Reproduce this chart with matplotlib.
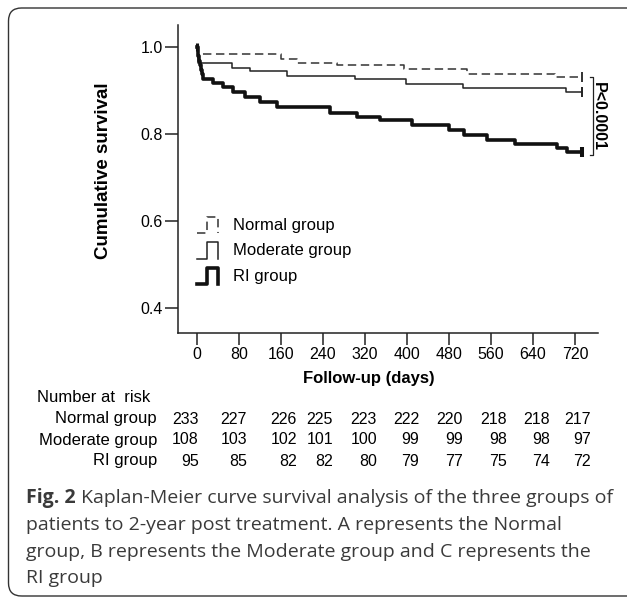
import numpy as np
import matplotlib
matplotlib.use("Agg")
import matplotlib.pyplot as plt
from matplotlib.lines import Line2D
from matplotlib.patches import FancyBboxPatch
from matplotlib.legend_handler import HandlerLine2D

plt.rcParams['font.family'] = ['Liberation Sans', 'DejaVu Sans']

# survival curves (event day, survival after the event)
normal_t = [0, 2, 160, 190, 266, 395, 514, 682]
normal_s = [1.0, 0.983, 0.972, 0.964, 0.959, 0.950, 0.938, 0.930]
moderate_t = [0, 2, 66, 101, 171, 301, 399, 507, 703]
moderate_s = [1.0, 0.964, 0.952, 0.945, 0.934, 0.926, 0.915, 0.906, 0.896]
ri_t = [0, 1, 2, 4, 6, 8, 10, 12, 31, 50, 69, 91, 120, 152, 253, 304, 349, 409, 480, 508, 553, 606, 685, 704]
ri_s = [1.0, 0.989, 0.979, 0.968, 0.958, 0.947, 0.937, 0.926, 0.917, 0.907, 0.897, 0.886,
        0.874, 0.861, 0.849, 0.840, 0.832, 0.820, 0.809, 0.798, 0.787, 0.777, 0.767, 0.758]
end_day = 733

group_names = ['Normal group', 'Moderate group', 'RI group']
x_ticks = [0, 80, 160, 240, 320, 400, 480, 560, 640, 720]
y_ticks = [0.4, 0.6, 0.8, 1.0]
risk_normal = [233, 227, 226, 225, 223, 222, 220, 218, 218, 217]
risk_moderate = [108, 103, 102, 101, 100, 99, 99, 98, 98, 97]
risk_ri = [95, 85, 82, 82, 80, 79, 77, 75, 74, 72]
p_text = 'P<0.0001'

caption_bold = 'Fig. 2'
caption_lines = [' Kaplan-Meier curve survival analysis of the three groups of',
                 'patients to 2-year post treatment. A represents the Normal',
                 'group, B represents the Moderate group and C represents the',
                 'RI group']

W, H = 627, 597
fig = plt.figure(figsize=(W / 100, H / 100), dpi=100)


def px(x, y):
    return x / W, 1 - y / H


# ---- axes ----
ax = fig.add_axes([178 / W, 1 - 333 / H, (598 - 178) / W, (333 - 25) / H])
ax.set_xlim(-36.2, 763.8)
ax.set_ylim(0.3425, 1.0506)
for sp in ['top', 'right']:
    ax.spines[sp].set_visible(False)
for sp in ['left', 'bottom']:
    ax.spines[sp].set_linewidth(1.1)
    ax.spines[sp].set_color('#222222')
ax.set_xticks(x_ticks)
ax.set_xticklabels([str(v) for v in x_ticks])
ax.set_yticks(y_ticks)
ax.set_yticklabels(['%.1f' % v for v in y_ticks])
ax.tick_params(axis='y', length=9.4, width=1.1, pad=1.5, labelsize=11.5, color='#222222')
ax.tick_params(axis='x', length=8.6, width=1.1, pad=1.5, labelsize=11.5, color='#222222')

styles = [dict(color='#333333', lw=1.1, ls=(0, (5.5, 3))),
          dict(color='#222222', lw=1.1, ls='-'),
          dict(color='#111111', lw=2.6, ls='-')]
curves = [(normal_t, normal_s), (moderate_t, moderate_s), (ri_t, ri_s)]
handles = []
for (t, s), st, name in zip(curves, styles, group_names):
    tt = list(t) + [end_day]
    ss = list(s) + [s[-1]]
    ln, = ax.step(tt, ss, where='post', label=name, **st)
    ax.plot([end_day], [s[-1]], marker='|', ms=7, mew=st['lw'] + 0.3, color=st['color'])
    handles.append(ln)
ax.plot([0], [1.0], marker='|', ms=6, mew=2.2, color='#111111')


class StepHandler(HandlerLine2D):
    def create_artists(self, legend, orig_handle, xdescent, ydescent, width, height, fontsize, trans):
        xs = np.array([0, 0.45, 0.45, 0.95, 0.95]) * width - xdescent
        ys = np.array([-0.1, -0.1, 1.0, 1.0, -0.1]) * height - ydescent
        line = Line2D(xs, ys)
        self.update_prop(line, orig_handle, legend)
        line.set_transform(trans)
        return [line]


leg = ax.legend(handles=handles, loc='upper left', bbox_to_anchor=px(197, 217),
                bbox_transform=fig.transFigure, frameon=False, fontsize=12,
                borderpad=0, borderaxespad=0, handlelength=1.3, handleheight=1.0,
                handletextpad=0.85, labelspacing=0.55,
                handler_map={Line2D: StepHandler()})

# p-value bracket
s_top, s_bot = normal_s[-1], ri_s[-1] - 0.006
bx = 754
ax.plot([bx - 5, bx, bx, bx - 5], [s_top, s_top, s_bot, s_bot], color='#222222', lw=0.9, clip_on=False)
ax.text(bx + 10, (s_top + s_bot) / 2, p_text, rotation=-90, ha='center', va='center',
        fontsize=11.5, fontweight='bold', clip_on=False)

# axis labels
fig.text(*px(103, 171), 'Cumulative survival', rotation=90, ha='center', va='center',
         fontsize=13.5, fontweight='bold')
fig.text(*px(369, 379), 'Follow-up (days)', ha='center', va='center',
         fontsize=12, fontweight='bold')

# number at risk table
fig.text(*px(37, 398), 'Number at  risk', ha='left', va='center', fontsize=12)
col_right = [199, 247, 297, 333, 377, 419, 463, 507, 550, 591]
row_y = [419, 440, 461]
for name, vals, y in zip(group_names, [risk_normal, risk_moderate, risk_ri], row_y):
    fig.text(*px(157, y), name, ha='right', va='center', fontsize=12)
    for v, xr in zip(vals, col_right):
        fig.text(*px(xr, y), str(v), ha='right', va='center', fontsize=11.5)

# caption
cap_font = ['Open Sans', 'DejaVu Sans']
cap_size = 14
cap_col = '#3a3a3a'
line_y = [503, 530, 557, 583]
renderer = fig.canvas.get_renderer()
tb = fig.text(*px(26, line_y[0]), caption_bold, ha='left', va='baseline', fontsize=cap_size,
              fontweight='bold', family=cap_font, color=cap_col)
bb = tb.get_window_extent(renderer)
fig.text(bb.x1 / W, 1 - line_y[0] / H, caption_lines[0], ha='left', va='baseline',
         fontsize=cap_size, family=cap_font, color=cap_col)
for txt, y in zip(caption_lines[1:], line_y[1:]):
    fig.text(*px(26, y), txt, ha='left', va='baseline', fontsize=cap_size, family=cap_font, color=cap_col)

# rounded frame (runs off the right edge)
frame = FancyBboxPatch((8.5, 1.0), 640, 588, boxstyle='round,pad=0,rounding_size=13',
                       transform=None, fill=False, lw=1.0, ec='#333333')
fig.patches.append(frame)

fig.savefig('out.png', dpi=100)
